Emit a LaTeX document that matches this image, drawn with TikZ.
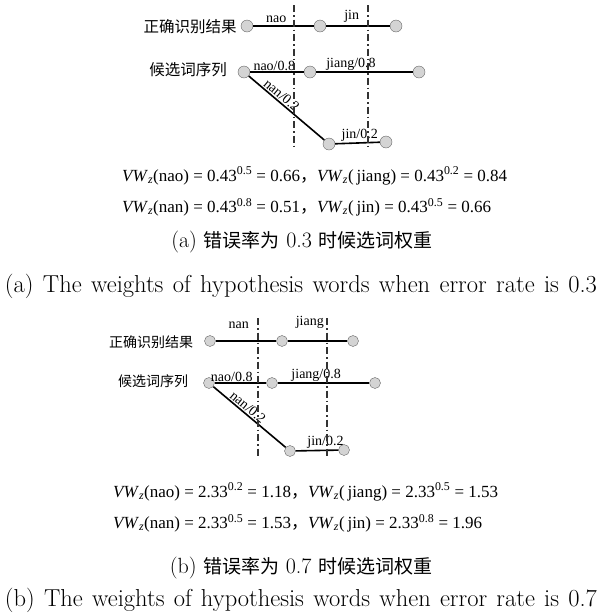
\documentclass[tikz,border=0pt]{standalone}
\usepackage{fontspec}
\newfontfamily\cjk{Noto Sans CJK SC}
\newfontfamily\tnr{Liberation Serif}
\usetikzlibrary{positioning}
\tikzset{
  state/.style={circle, draw=black!60, fill=black!17, minimum size=12pt, inner sep=0pt},
  arc/.style={line width=1.6pt, draw=black},
  cut/.style={line width=1.1pt, draw=black!80, dash pattern=on 7pt off 3pt on 1.5pt off 3pt},
  lab/.style={font=\tnr\fontsize{14}{14}\selectfont, inner sep=1pt},
  tag/.style={font=\cjk\fontsize{15.5}{15.5}\selectfont, inner sep=0pt},
  eq/.style={font=\tnr\fontsize{17}{17}\selectfont, anchor=west, inner sep=0pt},
  capt/.style={font=\fontsize{22}{22}\selectfont, inner sep=0pt},
  ecapt/.style={font=\fontsize{24.5}{24.5}\selectfont, inner sep=0pt}
}
\newcommand\vw[1]{\textit{VW}\textsubscript{\textit{z}}(#1)}
\newcommand\cn[1]{{\cjk\fontsize{19}{19}\selectfont #1}}

\begin{document}
\begin{tikzpicture}[x=1pt, y=-1pt]
  \useasboundingbox (0,0) rectangle (599,614);
  % (a) error rate 0.3
  \node[tag] (ra) at (190,27) {正确识别结果};
  \node[tag] (ha) at (188,70) {候选词序列};
  \node[state] (a1) at (247,26) {};
  \node[state] (a2) at (320,26) {};
  \node[state] (a3) at (396,26) {};
  \node[state] (b1) at (244,72) {};
  \node[state] (b2) at (310,72) {};
  \node[state] (b3) at (419,72) {};
  \node[state] (b4) at (329,144) {};
  \node[state] (b5) at (386,142) {};
  \draw[arc] (a1) -- node[lab, above=2pt, pos=.38] {nao} (a2);
  \draw[arc] (a2) -- node[lab, above=2pt, pos=.4] {jin} (a3);
  \draw[arc] (b1) -- node[lab, above, pos=.45] {nao/0.8} (b2);
  \draw[arc] (b2) -- node[lab, above, pos=.36] {jiang/0.8} (b3);
  \draw[arc] (b1) -- node[lab, above, sloped, pos=.38] {nan/0.2} (b4);
  \draw[arc] (b4) -- node[lab, above, pos=.55] {jin/0.2} (b5);
  \coordinate (ta1) at (294,5);  \coordinate (ba1) at (294,148);
  \coordinate (ta2) at (368,5);  \coordinate (ba2) at (368,148);
  \draw[cut] (ta1) -- (ba1);
  \draw[cut] (ta2) -- (ba2);
  \node[eq] (ea1) at (122,176) {\vw{nao} = 0.43\textsuperscript{0.5} = 0.66{\cjk ，}\vw{\,jiang} = 0.43\textsuperscript{0.2} = 0.84};
  \node[eq] (ea2) at (122,207) {\vw{nan} = 0.43\textsuperscript{0.8} = 0.51{\cjk ，}\vw{\,jin} = 0.43\textsuperscript{0.5} = 0.66};
  \node[capt] (ca1) at (302,242) {(a) \cn{错误率为} 0.3 \cn{时候选词权重}};
  \node[ecapt] (ca2) at (301,286) {\makebox[592pt][s]{(a) The weights of hypothesis words when error rate is 0.3}};
  % (b) error rate 0.7
  \node[tag, font=\cjk\fontsize{14}{14}\selectfont] (rb) at (151,342) {正确识别结果};
  \node[tag, font=\cjk\fontsize{14}{14}\selectfont] (hb) at (153,381) {候选词序列};
  \node[state, minimum size=11pt] (c1) at (210,341) {};
  \node[state, minimum size=11pt] (c2) at (282,341) {};
  \node[state, minimum size=11pt] (c3) at (353,341) {};
  \node[state, minimum size=11pt] (d1) at (209,383) {};
  \node[state, minimum size=11pt] (d2) at (272,383) {};
  \node[state, minimum size=11pt] (d3) at (375,383) {};
  \node[state, minimum size=11pt] (d4) at (290,451) {};
  \node[state, minimum size=11pt] (d5) at (344,450) {};
  \draw[arc] (c1) -- node[lab, above=11pt, pos=.38] {nan} (c2);
  \draw[arc] (c2) -- node[lab, above=11pt, pos=.37] {jiang} (c3);
  \draw[arc] (d1) -- node[lab, above, pos=.33] {nao/0.8} (d2);
  \draw[arc] (d2) -- node[lab, above, pos=.42] {jiang/0.8} (d3);
  \draw[arc] (d1) -- node[lab, above, sloped, pos=.42] {nan/0.2} (d4);
  \draw[arc] (d4) -- node[lab, above, pos=.7] {jin/0.2} (d5);
  \coordinate (tb1) at (258,318);  \coordinate (bb1) at (258,456);
  \coordinate (tb2) at (327,318);  \coordinate (bb2) at (327,456);
  \draw[cut] (tb1) -- (bb1);
  \draw[cut] (tb2) -- (bb2);
  \node[eq] (eb1) at (113,492) {\vw{nao} = 2.33\textsuperscript{0.2} = 1.18{\cjk ，}\vw{\,jiang} = 2.33\textsuperscript{0.5} = 1.53};
  \node[eq] (eb2) at (113,523) {\vw{nan} = 2.33\textsuperscript{0.5} = 1.53{\cjk ，}\vw{\,jin} = 2.33\textsuperscript{0.8} = 1.96};
  \node[capt] (cb1) at (301,568) {(b) \cn{错误率为} 0.7 \cn{时候选词权重}};
  \node[ecapt] (cb2) at (301,600) {\makebox[592pt][s]{(b) The weights of hypothesis words when error rate is 0.7}};
\end{tikzpicture}
\end{document}
